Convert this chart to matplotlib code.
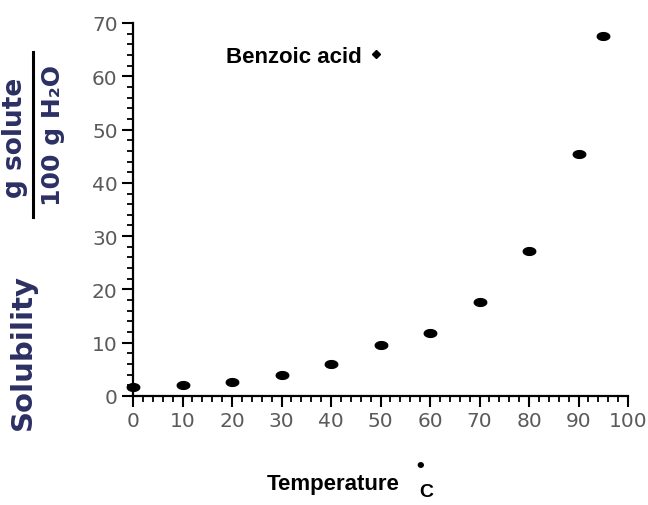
import numpy as np
import matplotlib.pyplot as plt
from matplotlib.lines import Line2D
from matplotlib.ticker import MultipleLocator

# benzoic acid solubility
temps = [0, 10, 20, 30, 40, 50, 60, 70, 80, 90, 95]
solubility = [1.6, 2.0, 2.7, 4.0, 6.0, 9.6, 11.9, 17.7, 27.3, 45.4, 67.6]
x_ticks = [0, 10, 20, 30, 40, 50, 60, 70, 80, 90, 100]
y_ticks = [0, 10, 20, 30, 40, 50, 60, 70]

narrow = ["Liberation Sans", "DejaVu Sans"]
label_color = "#2b2f63"
tick_color = "#5a5a5a"

# flat ellipse marker like the dots in the picture
t = np.linspace(0, 2 * np.pi, 40)
ellipse = np.column_stack([np.cos(t), 0.62 * np.sin(t)])

fig = plt.figure(figsize=(6.48, 5.06), dpi=100)
ax = fig.add_axes([133 / 648, 1 - 397 / 506, 495 / 648, 373 / 506])

ax.plot(temps, solubility, ls="none", marker=ellipse, ms=9.0,
        color="black", clip_on=False)

ax.set_xlim(0, 100)
ax.set_ylim(0, 70)
ax.set_xticks(x_ticks)
ax.set_yticks(y_ticks)
ax.xaxis.set_minor_locator(MultipleLocator(2))
ax.yaxis.set_minor_locator(MultipleLocator(2))

for side in ["top", "right"]:
    ax.spines[side].set_visible(False)
for side in ["left", "bottom"]:
    ax.spines[side].set_linewidth(1.6)

ax.tick_params(which="major", direction="out", length=8, width=1.5,
               labelsize=14.5, labelcolor=tick_color, pad=3)
ax.tick_params(which="minor", direction="out", length=4, width=1.3)

# legend key next to the compound name
key = Line2D([], [], ls="none", marker="D", ms=4.5, color="black")
ax.legend([key], ["Benzoic acid"], loc="upper left",
          bbox_to_anchor=(226 / 648, 1 - 47 / 506),
          bbox_transform=fig.transFigure, markerfirst=False, frameon=False,
          handlelength=0.7, handletextpad=0.3, borderpad=0, borderaxespad=0,
          prop={"family": narrow, "weight": "bold", "size": 16})

# x axis title
fig.text(333 / 648, 1 - 485 / 506, "Temperature", ha="center", va="center",
         family=narrow, fontweight="bold", fontsize=16)
fig.text(420 / 648, 1 - 467 / 506, "•", ha="center", va="center",
         fontsize=13, fontweight="bold")
fig.text(426 / 648, 1 - 493 / 506, "C", ha="center", va="center",
         family=narrow, fontweight="bold", fontsize=14)

# y axis title with the units fraction
fig.text(23 / 648, 1 - 352 / 506, "Solubility", rotation=90, ha="center",
         va="center", fontweight="bold", fontsize=21, color=label_color)
fig.text(15 / 648, 1 - 138 / 506, "g solute", rotation=90, ha="center",
         va="center", fontweight="bold", fontsize=19, color=label_color)
fig.text(53 / 648, 1 - 135 / 506, "100 g H₂O", rotation=90, ha="center",
         va="center", fontweight="bold", fontsize=18, color=label_color)
fig.add_artist(Line2D([33 / 648, 33 / 648], [1 - 53 / 506, 1 - 218 / 506],
                      transform=fig.transFigure, color="black", lw=2.2))

fig.savefig("out.png", dpi=100)
